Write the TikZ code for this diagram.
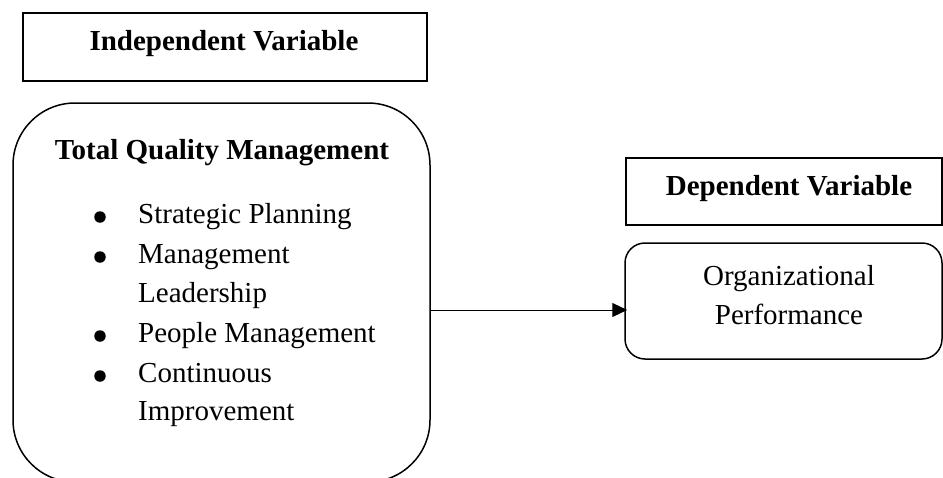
\documentclass[tikz,border=0pt]{standalone}
\usepackage{fontspec}
\setmainfont{Liberation Serif}
\usetikzlibrary{arrows.meta}
\begin{document}
\begin{tikzpicture}[x=1pt,y=-1pt,
  txt/.style={font=\fontsize{29}{39}\selectfont, inner sep=0pt, anchor=base},
  itm/.style={txt, anchor=base west},
  hdr/.style={font=\fontsize{29}{39}\selectfont\bfseries, inner sep=0pt, anchor=base},
  sqbox/.style={draw, line width=2pt, inner sep=0pt},
  rbox/.style={draw, line width=1.5pt, inner sep=0pt},
  bul/.style={circle, fill, inner sep=0pt, minimum size=11.5pt},
  arr/.style={-{Triangle[length=15pt,width=14pt]}, line width=1pt}
]
\useasboundingbox (0,0) rectangle (943,477);
% Independent variable header
\node[sqbox, minimum width=404pt, minimum height=68pt] (ivbox) at (225,47) {};
\node[hdr] (ivtxt) at (224,50) {Independent Variable};
% TQM box
\node[rbox, rounded corners=62pt, minimum width=417pt, minimum height=379pt] (tqm) at (221.5,292.5) {};
\node[hdr] (tqmtitle) at (222,159) {Total Quality Management};
\node[bul] (b1) at (100,217) {};
\node[itm] (i1) at (138,223) {Strategic Planning};
\node[bul] (b2) at (100,257) {};
\node[itm] (i2) at (138,263) {Management};
\node[itm] (i2b) at (138,302) {Leadership};
\node[bul] (b3) at (100,336) {};
\node[itm] (i3) at (138,342) {People Management};
\node[bul] (b4) at (100,376) {};
\node[itm] (i4) at (138,382) {Continuous};
\node[itm] (i4b) at (138,420) {Improvement};
% Dependent variable header
\node[sqbox, minimum width=316pt, minimum height=67pt] (dvbox) at (784,191.5) {};
\node[hdr] (dvtxt) at (789,195) {Dependent Variable};
% Organizational performance
\node[rbox, rounded corners=20pt, minimum width=317pt, minimum height=116pt] (op) at (783.5,301) {};
\node[txt] (op1) at (789,285) {Organizational};
\node[txt] (op2) at (789,324) {Performance};
% connector
\draw[arr] ([yshift=-17.5pt]tqm.east) -- ([yshift=-9pt,xshift=3pt]op.west);
\end{tikzpicture}
\end{document}
